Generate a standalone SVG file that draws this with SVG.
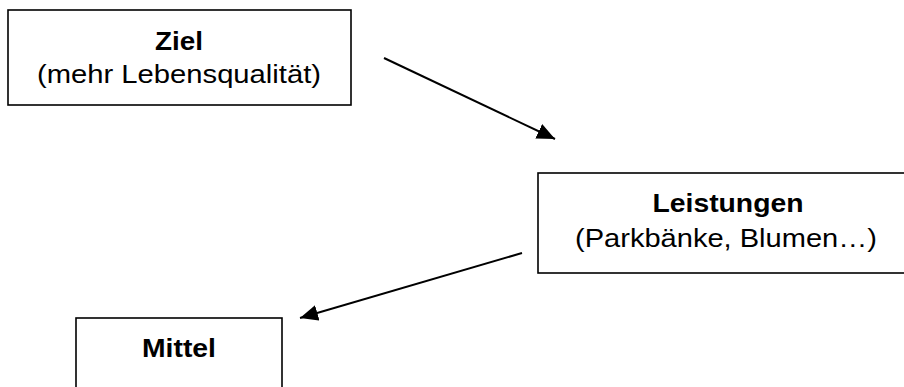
<svg xmlns="http://www.w3.org/2000/svg" width="904" height="387" viewBox="0 0 904 387">
<style>
.box{fill:#fff;stroke:#000;stroke-width:1.6}
.t{font-family:"Liberation Sans",Arial,sans-serif;font-size:26px;fill:#000;text-anchor:middle}
.b{font-weight:bold}
.c{stroke:#000;stroke-width:2;fill:none}
</style>
<defs>
<marker id="ah" markerUnits="userSpaceOnUse" markerWidth="20" markerHeight="16" refX="18" refY="8" orient="auto" viewBox="0 0 20 16">
<path d="M0,0 L18,8 L0,16 Z" fill="#000"/>
</marker>
</defs>
<rect width="904" height="387" fill="#fff"/>
<g id="ziel">
<rect class="box" x="8" y="10" width="343" height="95"/>
<text class="t b" x="179" y="50" textLength="48" lengthAdjust="spacingAndGlyphs">Ziel</text>
<text class="t" x="179" y="83" textLength="284" lengthAdjust="spacingAndGlyphs">(mehr Lebensqualität)</text>
</g>
<g id="leistungen">
<rect class="box" x="538" y="173" width="370" height="100"/>
<text class="t b" x="728" y="212" textLength="151" lengthAdjust="spacingAndGlyphs">Leistungen</text>
<text class="t" x="726" y="247" textLength="302" lengthAdjust="spacingAndGlyphs">(Parkbänke, Blumen…)</text>
</g>
<g id="mittel">
<rect class="box" x="76" y="318" width="206" height="80"/>
<text class="t b" x="179" y="357" textLength="74" lengthAdjust="spacingAndGlyphs">Mittel</text>
</g>
<g id="connectors">
<line class="c" x1="384" y1="58" x2="555" y2="139" marker-end="url(#ah)"/>
<line class="c" x1="522" y1="253" x2="300" y2="318" marker-end="url(#ah)"/>
</g>
</svg>
